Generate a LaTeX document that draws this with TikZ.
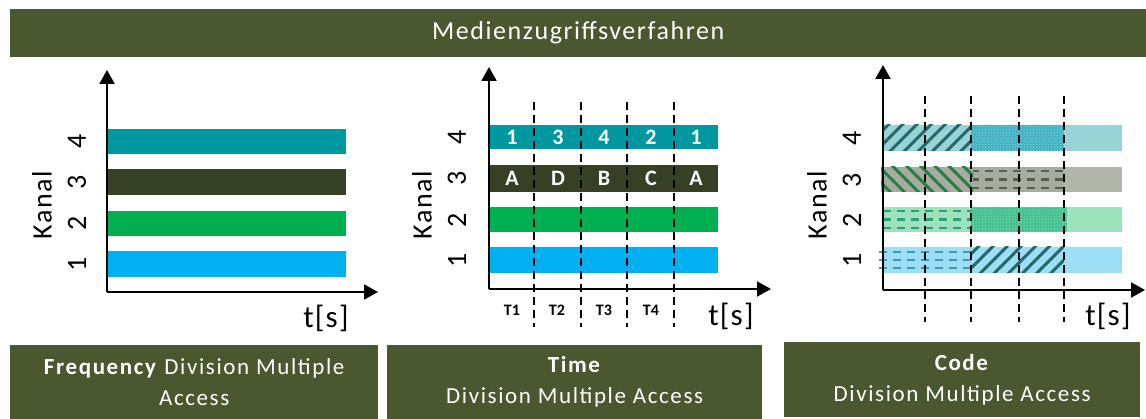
\documentclass[tikz,border=0pt]{standalone}
\usepackage{fontspec}
\setmainfont{Carlito}
\usetikzlibrary{arrows.meta, positioning, patterns, patterns.meta}

\definecolor{titleolive}{RGB}{74,88,48}
\definecolor{kanalteal}{RGB}{0,152,160}
\definecolor{kanaldark}{RGB}{54,64,37}
\definecolor{kanalgreen}{RGB}{0,176,80}
\definecolor{kanalblue}{RGB}{0,176,240}
% lighter tones for the code multiplex
\definecolor{cteal}{RGB}{152,211,214}
\definecolor{ctealmid}{RGB}{62,178,196}
\definecolor{ctealdark}{RGB}{36,104,108}
\definecolor{cgray}{RGB}{178,182,168}
\definecolor{cgraymid}{RGB}{166,172,158}
\definecolor{cgraydark}{RGB}{84,94,82}
\definecolor{cgreenstripe}{RGB}{34,128,66}
\definecolor{cgreen}{RGB}{156,226,188}
\definecolor{cgreenmid}{RGB}{64,192,144}
\definecolor{cgreendash}{RGB}{46,156,118}
\definecolor{cblue}{RGB}{156,222,244}
\definecolor{cbluedash}{RGB}{56,156,180}

\newcommand{\spaced}[1]{\addfontfeatures{LetterSpace=#1}}

\begin{document}
\begin{tikzpicture}[
      x=1pt, y=-1pt,
      banner/.style={fill=titleolive, text=white, inner sep=0pt, align=center},
      boxtext/.style={font=\fontsize{23}{31}\selectfont\spaced{7}},
      axis/.style={line width=2pt, -{Triangle[width=15pt,length=14pt]}},
      slot/.style={line width=1.4pt, dash pattern=on 8pt off 5pt},
      chip/.style={line width=2.6pt, dash pattern=on 8pt off 6pt},
      chnum/.style={rotate=90, font=\fontsize{28}{30}\selectfont\spaced{6}},
      tsec/.style={font=\fontsize{31}{33}\selectfont\spaced{4}},
      inbar/.style={text=white, font=\bfseries\fontsize{22}{24}\selectfont},
      slotname/.style={font=\bfseries\fontsize{16}{18}\selectfont},
      stripes/.style={pattern={Lines[angle=#1,distance=10pt,line width=3pt]}},
    ]
    \useasboundingbox (0,0) rectangle (1146,419);

    \node[banner, anchor=north west, minimum width=1136pt, minimum height=48pt,
      font=\fontsize{26}{28}\selectfont\spaced{6}] (title) at (10,9) {Medienzugriffsverfahren};

    % --- frequency division
    \coordinate (o1) at (107,292);
    \fill[kanalteal] (107,129) rectangle (346,154);
    \fill[kanaldark] (107,169) rectangle (346,195);
    \fill[kanalgreen] (107,211) rectangle (346,236);
    \fill[kanalblue] (107,251) rectangle (346,277);
    \draw[axis] (o1) -- (107,70);
    \draw[axis] (o1) -- (378,292);
    \node[chnum] (f4) at (77,141) {4};
    \node[chnum] (f3) at (77,182) {3};
    \node[chnum] (f2) at (77,223) {2};
    \node[chnum] (f1) at (77,264) {1};
    \node[chnum] (fk) at (42,205) {Kanal};
    \node[tsec] (ft) at (326,318) {t[s]};

    % --- time division
    \coordinate (o2) at (489,289);
    \fill[kanalteal] (489,125) rectangle (718,149);
    \fill[kanaldark] (489,165) rectangle (718,192);
    \fill[kanalgreen] (489,207) rectangle (718,232);
    \fill[kanalblue] (489,247) rectangle (718,273);
    \draw[slot] (534,102) -- (534,327);
    \draw[slot] (581,102) -- (581,327);
    \draw[slot] (627,102) -- (627,327);
    \draw[slot] (674,102) -- (674,327);
    \draw[axis] (o2) -- (489,67);
    \draw[axis] (o2) -- (771,289);
    \node[inbar] at (512,137) {1};
    \node[inbar] at (558,137) {3};
    \node[inbar] at (604,137) {4};
    \node[inbar] at (651,137) {2};
    \node[inbar] at (696,137) {1};
    \node[inbar] at (512,178) {A};
    \node[inbar] at (558,178) {D};
    \node[inbar] at (604,178) {B};
    \node[inbar] at (651,178) {C};
    \node[inbar] at (696,178) {A};
    \node[slotname] (t1) at (512,310) {T1};
    \node[slotname] (t2) at (557,310) {T2};
    \node[slotname] (t3) at (604,310) {T3};
    \node[slotname] (t4) at (651,310) {T4};
    \node[chnum] (s4) at (457,137) {4};
    \node[chnum] (s3) at (457,178) {3};
    \node[chnum] (s2) at (457,220) {2};
    \node[chnum] (s1) at (457,260) {1};
    \node[chnum] (sk) at (422,205) {Kanal};
    \node[tsec] (st) at (731,316) {t[s]};

    % --- code division
    \coordinate (o3) at (883,290);
    \fill[cteal] (883,125) rectangle (1122,151);
    \fill[ctealmid, postaction={pattern=crosshatch dots, pattern color=cteal}] (971,125) rectangle (1064,151);
    \fill[cteal, postaction={stripes=45, pattern color=ctealdark}] (883,125) rectangle (971,151);
    \fill[cgray] (883,167) rectangle (1122,192);
    \fill[cgraymid] (971,167) rectangle (1064,192);
    \draw[chip, cgraydark] (971,171) -- (1064,171);
    \draw[chip, cgraydark] (971,179.5) -- (1064,179.5);
    \draw[chip, cgraydark] (971,188) -- (1064,188);
    \fill[cgraymid, postaction={stripes=-45, pattern color=cgreenstripe}] (881,167) rectangle (973,192);
    \fill[cgreen] (883,207) rectangle (1122,232);
    \fill[cgreenmid, postaction={pattern=crosshatch dots, pattern color=cgreen}] (971,207) rectangle (1067,232);
    \draw[chip, cgreendash] (883,211) -- (971,211);
    \draw[chip, cgreendash] (883,219.5) -- (971,219.5);
    \draw[chip, cgreendash] (883,228) -- (971,228);
    \fill[cblue] (883,247) rectangle (1122,273);
    \fill[cblue, postaction={stripes=45, pattern color=ctealdark}] (971,247) rectangle (1064,273);
    \draw[chip, cbluedash] (879,252) -- (971,252);
    \draw[chip, cbluedash] (879,260) -- (971,260);
    \draw[chip, cbluedash] (879,268) -- (971,268);
    \draw[slot] (925,96) -- (925,322);
    \draw[slot] (971,96) -- (971,322);
    \draw[slot] (1019,96) -- (1019,322);
    \draw[slot] (1064,96) -- (1064,322);
    \draw[axis] (o3) -- (883,65);
    \draw[axis] (o3) -- (1145,290);
    \node[chnum] (c4) at (852,138) {4};
    \node[chnum] (c3) at (852,180) {3};
    \node[chnum] (c2) at (852,220) {2};
    \node[chnum] (c1) at (852,260) {1};
    \node[chnum] (ck) at (817,205) {Kanal};
    \node[tsec] (ct) at (1108,316) {t[s]};

    % --- method boxes
    \node[banner, boxtext, anchor=north west, minimum width=368pt, minimum height=74pt]
      (fdma) at (10,345) {\textbf{Frequency} Division Multiple\\Access};
    \node[banner, boxtext, anchor=north west, minimum width=375pt, minimum height=74pt]
      (tdma) at (387,345) {\textbf{Time}\\Division Multiple Access};
    \node[banner, boxtext, anchor=north west, minimum width=356pt, minimum height=75pt]
      (cdma) at (784,342) {\textbf{Code}\\Division Multiple Access};
  \end{tikzpicture}
\end{document}
